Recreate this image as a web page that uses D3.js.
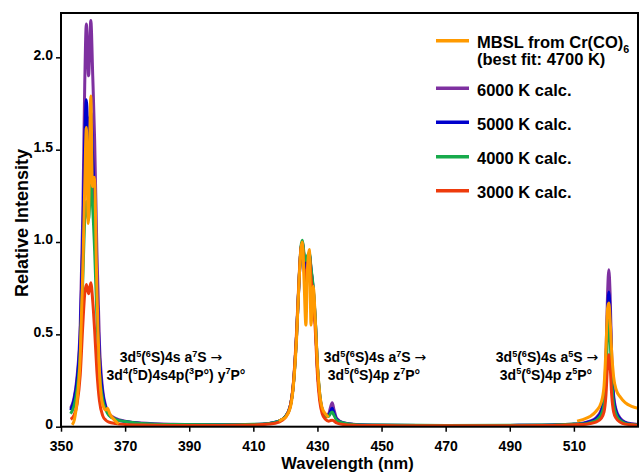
<!DOCTYPE html>
<html>
<head>
<meta charset="utf-8">
<script src="https://cdn.jsdelivr.net/npm/d3@7"></script>
<style>
  body { margin: 0; background: #fff; }
  svg { display: block; font-family: "Liberation Sans", Arial, sans-serif; font-weight: bold; }
</style>
</head>
<body>
<svg id="chart" width="639" height="475"></svg>
<script>
// wavelength grid shared by the calculated spectra (nm)
const wl = [353, 354, 355, 356, 356.8, 357.4, 357.9, 358.6, 359.3, 359.9, 360.5, 361.2, 362, 363, 364, 365, 367, 370, 375, 385, 400,
  410, 415, 418, 420,
  421.5, 422.5, 423.5, 424.3, 424.9, 425.3, 425.8, 426.4, 427.0, 427.5, 428.0, 428.7, 429.4, 430.0, 430.7, 431.5, 432.5, 433.5, 434.0, 434.6, 435.2, 436, 438, 442,
  450, 470, 490, 500, 505, 510,
  513, 515, 517, 518.5, 519.4, 520.0, 520.5, 520.9, 521.3, 521.8, 522.4, 523.2, 524.5, 526, 528, 530]

const calc6000 = [0.10, 0.15, 0.27, 0.55, 1.15, 1.85, 2.18, 1.90, 2.20, 1.90, 1.55, 0.95, 0.45, 0.20, 0.11, 0.07, 0.045, 0.03, 0.02, 0.013, 0.01,
  0.012, 0.018, 0.03, 0.055,
  0.11, 0.23, 0.50, 0.80, 0.97, 1.00, 0.92, 0.85, 0.90, 0.93, 0.85, 0.74, 0.55, 0.32, 0.17, 0.09, 0.06, 0.07, 0.10, 0.13, 0.09, 0.045, 0.022, 0.012,
  0.008, 0.006, 0.007, 0.008, 0.01, 0.014,
  0.02, 0.03, 0.05, 0.09, 0.17, 0.38, 0.72, 0.85, 0.72, 0.38, 0.17, 0.09, 0.045, 0.025, 0.016, 0.012]

const calc5000 = [0.09, 0.14, 0.25, 0.50, 1.00, 1.55, 1.77, 1.52, 1.70, 1.45, 1.20, 0.75, 0.38, 0.18, 0.10, 0.065, 0.04, 0.028, 0.018, 0.012, 0.01,
  0.012, 0.018, 0.03, 0.055,
  0.11, 0.23, 0.50, 0.80, 0.97, 1.00, 0.92, 0.86, 0.91, 0.93, 0.85, 0.74, 0.55, 0.32, 0.17, 0.09, 0.055, 0.06, 0.08, 0.10, 0.07, 0.04, 0.02, 0.011,
  0.008, 0.006, 0.007, 0.008, 0.01, 0.013,
  0.018, 0.027, 0.044, 0.08, 0.15, 0.33, 0.62, 0.73, 0.62, 0.33, 0.15, 0.08, 0.04, 0.022, 0.014, 0.011]

const calc4000 = [0.07, 0.11, 0.20, 0.40, 0.80, 1.12, 1.22, 1.12, 1.31, 1.18, 0.95, 0.60, 0.30, 0.15, 0.09, 0.06, 0.04, 0.028, 0.018, 0.012, 0.01,
  0.013, 0.018, 0.03, 0.055,
  0.11, 0.23, 0.50, 0.81, 0.98, 1.01, 0.94, 0.90, 0.93, 0.94, 0.86, 0.75, 0.56, 0.33, 0.18, 0.09, 0.055, 0.055, 0.07, 0.08, 0.06, 0.035, 0.02, 0.011,
  0.009, 0.007, 0.008, 0.009, 0.011, 0.014,
  0.015, 0.022, 0.035, 0.065, 0.12, 0.26, 0.49, 0.58, 0.49, 0.26, 0.12, 0.065, 0.033, 0.018, 0.012, 0.009]

const calc3000 = [0.04, 0.06, 0.12, 0.28, 0.55, 0.72, 0.77, 0.72, 0.78, 0.68, 0.52, 0.30, 0.14, 0.06, 0.035, 0.025, 0.017, 0.012, 0.009, 0.007, 0.007,
  0.009, 0.014, 0.025, 0.05,
  0.11, 0.24, 0.52, 0.82, 0.97, 0.98, 0.86, 0.78, 0.88, 0.92, 0.80, 0.70, 0.50, 0.28, 0.14, 0.07, 0.04, 0.03, 0.033, 0.035, 0.03, 0.02, 0.012, 0.008,
  0.006, 0.005, 0.005, 0.006, 0.008, 0.011,
  0.012, 0.017, 0.026, 0.045, 0.08, 0.17, 0.33, 0.39, 0.33, 0.17, 0.08, 0.045, 0.024, 0.014, 0.01, 0.008]

// measured MBSL spectrum, three windows (null = gap)
const mbslWl = [353.5, 354.2, 355, 356, 356.8, 357.4, 357.9, 358.5, 359.3, 359.8, 360.4, 361.2, 362, 363, 364, 364.5, 365.2, 366, 367, 368, null,
  418, 419, 420, 421.5, 422.5, 423.5, 424.3, 424.9, 425.3, 425.8, 426.4, 426.9, 427.5, 428.0, 428.7, 429.4, 430.0, 430.7, 431.5, 432.5, 433.5, null,
  511, 513, 515, 517, 518.5, 519.4, 520.0, 520.5, 520.9, 521.3, 521.8, 522.4, 523.2, 524.5, 526, 528, 530]
const mbslI = [0.01, 0.04, 0.14, 0.38, 0.85, 1.30, 1.62, 1.10, 1.79, 1.30, 1.35, 0.75, 0.30, 0.12, 0.09, 0.10, 0.07, 0.05, 0.03, 0.015, null,
  0.03, 0.04, 0.05, 0.10, 0.22, 0.48, 0.80, 0.97, 1.00, 0.80, 0.55, 0.85, 0.96, 0.55, 0.76, 0.55, 0.34, 0.18, 0.10, 0.07, 0.05, null,
  0.03, 0.04, 0.055, 0.085, 0.13, 0.22, 0.42, 0.64, 0.67, 0.58, 0.40, 0.27, 0.20, 0.16, 0.13, 0.11, 0.10]

const xTicks = [350, 370, 390, 410, 430, 450, 470, 490, 510]
const yTicks = [0, 0.5, 1.0, 1.5, 2.0]

const seriesNames = ['6000 K calc.', '5000 K calc.', '4000 K calc.', '3000 K calc.']
const seriesValues = [calc6000, calc5000, calc4000, calc3000]
const colors = { mbsl: '#ff9a00', '6000 K calc.': '#7e30a0', '5000 K calc.': '#0000cc', '4000 K calc.': '#17aa4b', '3000 K calc.': '#ee3b0c' }

// transition labels: [text, 'sup' | 'arrow' | undefined]
const labels = [
  { cx: [171, 176], lines: [
    [['3d'], ['5', 'sup'], ['('], ['6', 'sup'], ['S)4s a'], ['7', 'sup'], ['S '], ['\u2192', 'arrow']],
    [['3d'], ['4', 'sup'], ['('], ['5', 'sup'], ['D)4s4p('], ['3', 'sup'], ['P\u00b0) y'], ['7', 'sup'], ['P\u00b0']]] },
  { cx: [375, 374], lines: [
    [['3d'], ['5', 'sup'], ['('], ['6', 'sup'], ['S)4s a'], ['7', 'sup'], ['S '], ['\u2192', 'arrow']],
    [['3d'], ['5', 'sup'], ['('], ['6', 'sup'], ['S)4p z'], ['7', 'sup'], ['P\u00b0']]] },
  { cx: [547, 546], lines: [
    [['3d'], ['5', 'sup'], ['('], ['6', 'sup'], ['S)4s a'], ['5', 'sup'], ['S '], ['\u2192', 'arrow']],
    [['3d'], ['5', 'sup'], ['('], ['6', 'sup'], ['S)4p z'], ['5', 'sup'], ['P\u00b0']]] }
]

const svg = d3.select('#chart')
const plotL = 61, plotR = 638, plotT = 13, plotB = 426.7

const x = d3.scaleLinear().domain([350, 530]).range([plotL, plotR])
const y = d3.scaleLinear().domain([0, 2.24]).range([plotB, plotT])

svg.append('defs').append('clipPath').attr('id', 'clip')
  .append('rect').attr('x', plotL).attr('y', plotT).attr('width', plotR - plotL).attr('height', plotB - plotT)

const line = d3.line()
  .defined((d) => d[1] != null)
  .x((d) => x(d[0]))
  .y((d) => y(d[1]))
  .curve(d3.curveMonotoneX)

const plot = svg.append('g').attr('clip-path', 'url(#clip)')

seriesNames.forEach((name, k) => {
  plot.append('path')
    .datum(wl.map((w, i) => [w, seriesValues[k][i]]))
    .attr('fill', 'none')
    .attr('stroke', colors[name])
    .attr('stroke-width', 3)
    .attr('stroke-linejoin', 'round')
    .attr('d', line)
})

plot.append('path')
  .datum(mbslWl.map((w, i) => [w, mbslI[i]]))
  .attr('fill', 'none')
  .attr('stroke', colors.mbsl)
  .attr('stroke-width', 3)
  .attr('stroke-linejoin', 'round')
  .attr('d', line)

// axes
const xAxis = svg.append('g')
  .attr('transform', `translate(0,${plotB})`)
  .call(d3.axisBottom(x).tickValues(xTicks).tickSize(5).tickSizeOuter(0).tickFormat(d3.format('d')))
xAxis.select('.domain').remove()
xAxis.selectAll('line').attr('stroke-width', 1.5)
xAxis.selectAll('text').attr('y', 14).attr('font-size', 14).attr('font-family', null).attr('fill', '#000')

const yAxis = svg.append('g')
  .attr('transform', `translate(${plotL},0)`)
  .call(d3.axisLeft(y).tickValues(yTicks).tickSize(5).tickSizeOuter(0)
    .tickFormat((d) => d === 0 ? '0' : d3.format('.1f')(d)))
yAxis.select('.domain').remove()
yAxis.selectAll('line').attr('stroke-width', 1.5)
yAxis.selectAll('text').attr('dy', '0.14em').attr('x', -8).attr('font-size', 14).attr('font-family', null).attr('fill', '#000')

svg.append('rect')
  .attr('x', plotL).attr('y', plotT).attr('width', plotR - plotL).attr('height', plotB - plotT)
  .attr('fill', 'none').attr('stroke', '#000').attr('stroke-width', 2)

svg.append('text')
  .attr('x', 347.5).attr('y', 469)
  .attr('text-anchor', 'middle').attr('font-size', 16.5)
  .text('Wavelength (nm)')

svg.append('text')
  .attr('transform', `translate(28,${223}) rotate(-90)`)
  .attr('text-anchor', 'middle').attr('font-size', 18)
  .text('Relative Intensity')

// rich text helper for super/subscripts
function rich (sel, parts, fs) {
  let shift = 0
  parts.forEach(([t, k]) => {
    const want = k === 'sup' ? -fs * 0.38 : k === 'sub' ? fs * 0.3 : 0
    const ts = sel.append('tspan').text(t).attr('dy', want - shift)
    if (k === 'sup' || k === 'sub') ts.attr('font-size', fs * 0.65)
    if (k === 'arrow') ts.attr('font-family', 'DejaVu Sans').attr('font-weight', 'normal')
    shift = want
  })
}

labels.forEach((lab) => {
  lab.lines.forEach((parts, j) => {
    const t = svg.append('text')
      .attr('x', lab.cx[j]).attr('y', 362 + j * 17.5)
      .attr('text-anchor', 'middle').attr('font-size', 14)
    rich(t, parts, 14)
  })
})

// legend
const legendRows = [
  { key: 'mbsl', ly: 40.7, text: [['MBSL from Cr(CO)'], ['6', 'sub']] },
  { key: null, ly: 57.5, text: [['(best fit: 4700 K)']] },
  { key: '6000 K calc.', ly: 88.3, text: [['6000 K calc.']] },
  { key: '5000 K calc.', ly: 122.3, text: [['5000 K calc.']] },
  { key: '4000 K calc.', ly: 156.7, text: [['4000 K calc.']] },
  { key: '3000 K calc.', ly: 190.7, text: [['3000 K calc.']] }
]
const legend = svg.append('g')
legendRows.forEach((r) => {
  if (r.key) {
    legend.append('line')
      .attr('x1', 436).attr('x2', 469).attr('y1', r.ly).attr('y2', r.ly)
      .attr('stroke', colors[r.key]).attr('stroke-width', 3.5)
  }
  const t = legend.append('text').attr('x', 477).attr('y', r.ly + 7.6).attr('font-size', 16.5)
  rich(t, r.text, 16.5)
})
</script>
</body>
</html>
